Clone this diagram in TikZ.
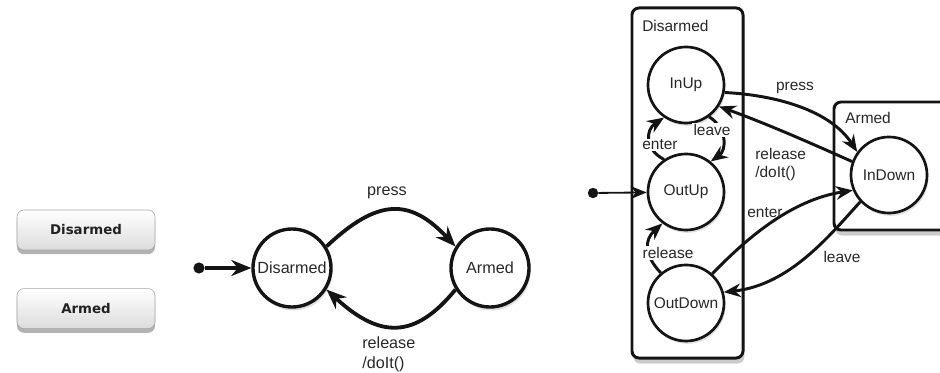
\documentclass[tikz,border=0pt]{standalone}
\usepackage{fontspec}
\setmainfont{Liberation Sans}
\newfontfamily\btnfont{DejaVu Sans}
\usetikzlibrary{arrows.meta,positioning,shadows}
\definecolor{stline}{RGB}{20,20,20}
\definecolor{sttext}{RGB}{40,40,40}
\definecolor{btnbot}{RGB}{220,220,220}
\definecolor{btnedge}{RGB}{165,165,165}
\definecolor{btntext}{RGB}{34,34,34}

\begin{document}
\begin{tikzpicture}[
  x=0.025cm, y=-0.025cm,
  btn/.style={draw=btnedge, rounded corners=5pt, top color=white, bottom color=btnbot, minimum width=3.45cm, minimum height=1cm, font=\btnfont\bfseries\fontsize{9.5}{11}\selectfont, text=btntext, drop shadow={shadow xshift=0pt, shadow yshift=-3pt, opacity=0.6}},
  bigstate/.style={circle, draw=stline, line width=2.4pt, fill=white, minimum size=1.95cm, inner sep=0pt, text=sttext, font=\fontsize{11.5}{14}\selectfont, drop shadow={shadow xshift=1pt, shadow yshift=-2.5pt, opacity=0.25}},
  state/.style={circle, draw=stline, line width=1.9pt, fill=white, minimum size=1.9cm, inner sep=0pt, text=sttext, font=\fontsize{11}{13}\selectfont, drop shadow={shadow xshift=1pt, shadow yshift=-2pt, opacity=0.25}},
  comp/.style={draw=stline, line width=2.1pt, fill=white, rounded corners=5pt, drop shadow={shadow xshift=1pt, shadow yshift=-4pt, opacity=0.4}},
  initdot/.style={circle, fill=stline, minimum size=0.28cm, inner sep=0pt},
  bigarr/.style={-{Stealth[length=5mm, width=4mm]}, line width=2.7pt, stline},
  arr/.style={-{Stealth[length=4.2mm, width=3.4mm]}, line width=2.1pt, stline},
  thinarr/.style={-{Stealth[length=4mm, width=3.2mm]}, line width=1.3pt, stline},
  lbl/.style={inner sep=0pt, text=sttext, font=\fontsize{11}{13}\selectfont},
  inlbl/.style={lbl, fill=white, inner sep=1pt}
]
\clip (0,0) rectangle (940,373);

% buttons
\node[btn] (btndis) at (86,230) {Disarmed};
\node[btn, below=0.95cm of btndis] (btnarm) {Armed};

% flat machine
\node[initdot] (start) at (199,268) {};
\node[bigstate] (dis) at (292,268) {Disarmed};
\node[bigstate] (arm) at (490,268) {Armed};
\draw[bigarr] (start) -- (dis);
\draw[bigarr] (dis.32) .. controls (378,198) and (410,198) .. (arm.148);
\draw[bigarr] (arm.212) .. controls (415,339) and (380,339) .. (dis.328);
\node[lbl, font=\fontsize{11.5}{14}\selectfont] at (387,193) {press};
\node[lbl, font=\fontsize{11.5}{14}\selectfont, align=left, anchor=north west] at (362,337) {release\\/doIt()};

% nested machine
\node[comp, minimum width=2.775cm, minimum height=8.75cm] (disbox) at (687.5,183) {};
\node[comp, minimum width=3.3cm, minimum height=3.2cm] (armbox) at (900,166) {};
\node[lbl, anchor=west] at (642,26) {Disarmed};
\node[lbl, anchor=west] at (845,118) {Armed};

\node[state] (inup) at (686,85) {InUp};
\node[state] (outup) at (686,192) {OutUp};
\node[state] (outdown) at (686,303) {OutDown};
\node[state] (indown) at (889,175) {InDown};
\node[initdot, minimum size=0.26cm] (init) at (593,193) {};
\draw[thinarr] (init) -- (outup);

\draw[arr] (inup.-11) .. controls (775,95) and (830,110) .. (indown.144);
\draw[arr] (indown.160) .. controls (815,145) and (770,125) .. (inup.-33);
\draw[arr] (outdown.48) .. controls (745,240) and (790,200) .. (indown.203);
\draw[arr] (indown.223) .. controls (830,235) and (790,285) .. (outdown.16);
\node[lbl] at (795,88) {press};
\node[lbl, align=left, anchor=north west] at (755,148) {release\\/doIt()};
\node[lbl] at (765,213) {enter};
\node[lbl] at (842,257) {leave};

\draw[arr] (outup.124) .. controls (645,150) and (645,130) .. (inup.236);
\draw[arr] (inup.306) .. controls (727,128) and (727,150) .. (outup.51);
\draw[arr] (outdown.130) .. controls (644,255) and (644,240) .. (outup.233);
\node[inlbl] at (660,145) {enter};
\node[inlbl] at (712,130) {leave};
\node[inlbl] at (668,253) {release};
\end{tikzpicture}
\end{document}
